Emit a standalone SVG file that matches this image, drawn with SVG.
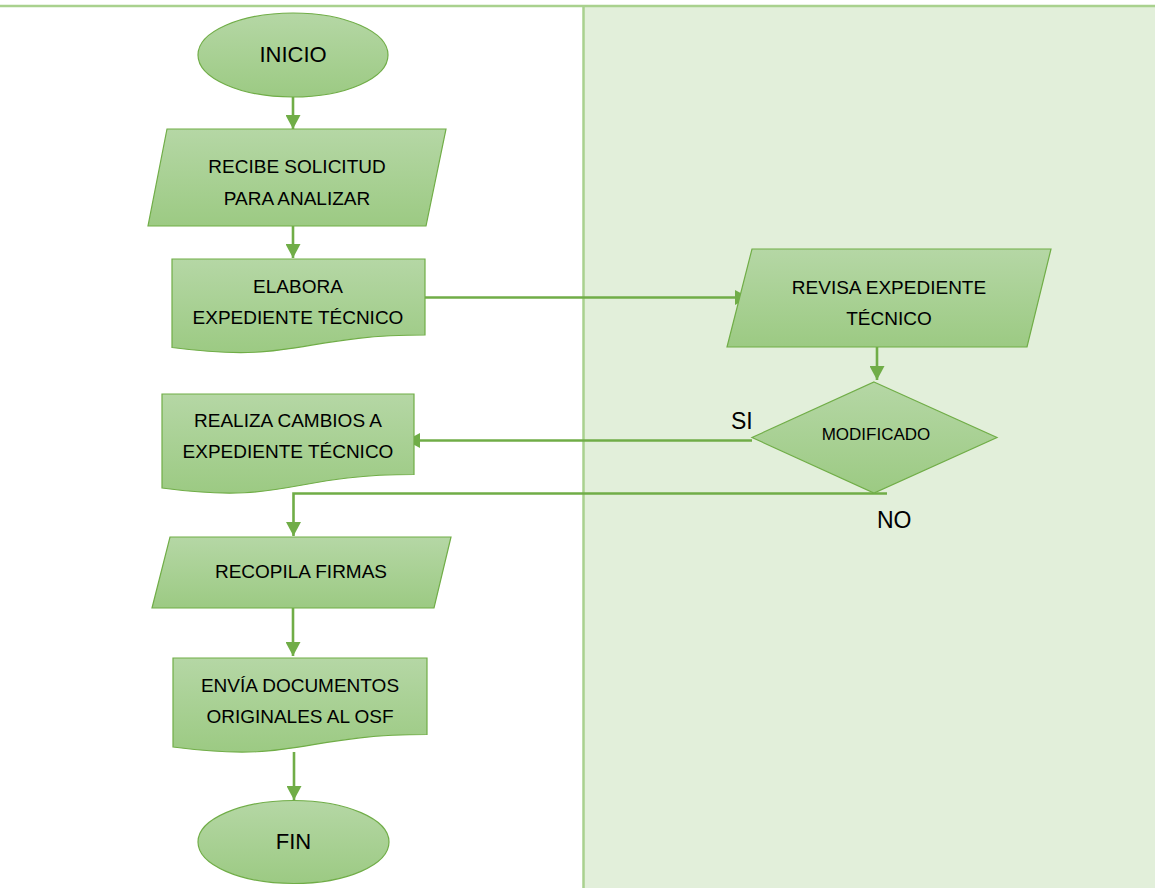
<svg xmlns="http://www.w3.org/2000/svg" width="1155" height="888" viewBox="0 0 1155 888">
  <defs>
    <linearGradient id="fillGreen" x1="0" y1="0" x2="0" y2="1">
      <stop offset="0" stop-color="#b5d7a5"/>
      <stop offset="1" stop-color="#9cca83"/>
    </linearGradient>
    <marker id="arrow" viewBox="0 0 14 15" refX="14" refY="7.5" markerWidth="14" markerHeight="15" markerUnits="userSpaceOnUse" orient="auto">
      <path d="M0,0 L14,7.5 L0,15 Z" fill="#70ad47"/>
    </marker>
    <style>
      .shape { fill: url(#fillGreen); stroke: #70ad47; stroke-width: 1.2; }
      .label { font-family: "Liberation Sans", Arial, sans-serif; font-size: 19px; fill: #000; text-anchor: middle; }
      .term { font-size: 22px; }
      .small { font-size: 17px; }
      .edge { fill: none; stroke: #70ad47; stroke-width: 2.6; marker-end: url(#arrow); }
      .plain { fill: none; stroke: #70ad47; stroke-width: 2.6; }
      .branch { font-family: "Liberation Sans", Arial, sans-serif; font-size: 23px; fill: #000; }
    </style>
  </defs>

  <!-- swimlane background -->
  <rect x="0" y="0" width="1155" height="888" fill="#ffffff"/>
  <rect x="584" y="7" width="571" height="881" fill="#e2efda"/>
  <line x1="0" y1="6" x2="1155" y2="6" stroke="#a9d18e" stroke-width="2.5"/>
  <line x1="583.5" y1="6" x2="583.5" y2="888" stroke="#a9d18e" stroke-width="2.5"/>

  <!-- connectors -->
  <g id="connectors">
    <path class="edge" d="M293,97 V129"/>
    <path class="edge" d="M293,226 V258"/>
    <path class="edge" d="M425,297.5 H749"/>
    <path class="edge" d="M877,347 V380"/>
    <path class="edge" d="M752,440.5 H406"/>
    <path class="edge" d="M887,493.5 H293.5 V536"/>
    <path class="edge" d="M293,608 V656"/>
    <path class="edge" d="M294,752 V800"/>
  </g>

  <g id="inicio">
    <ellipse class="shape" cx="293" cy="55" rx="95" ry="42"/>
    <text class="label term" x="293" y="62">INICIO</text>
  </g>

  <g id="recibe-solicitud">
    <polygon class="shape" points="167,129 446,129 426,226 148,226"/>
    <text class="label" x="297" y="173">RECIBE SOLICITUD</text>
    <text class="label" x="297" y="205">PARA ANALIZAR</text>
  </g>

  <g id="elabora-expediente">
    <path class="shape" d="M172,259 H425 V335 C298.5,335 298.5,364 172,347.5 Z"/>
    <text class="label" x="298" y="293">ELABORA</text>
    <text class="label" x="298" y="324">EXPEDIENTE TÉCNICO</text>
  </g>

  <g id="revisa-expediente">
    <polygon class="shape" points="752,249 1051,249 1027,347 727,347"/>
    <text class="label" x="889" y="294">REVISA EXPEDIENTE</text>
    <text class="label" x="889" y="325">TÉCNICO</text>
  </g>

  <g id="modificado">
    <polygon class="shape" points="874,382 997,437.5 874,493 752,437.5"/>
    <text class="label small" x="876" y="440">MODIFICADO</text>
  </g>

  <g id="realiza-cambios">
    <path class="shape" d="M162,394 H414 V474.5 C288,474.5 288,505 162,488 Z"/>
    <text class="label" x="288" y="427">REALIZA CAMBIOS A</text>
    <text class="label" x="288" y="458">EXPEDIENTE TÉCNICO</text>
  </g>

  <g id="recopila-firmas">
    <polygon class="shape" points="170,537 451,537 434,608 152,608"/>
    <text class="label" x="301" y="578">RECOPILA FIRMAS</text>
  </g>

  <g id="envia-documentos">
    <path class="shape" d="M173,658 H427 V734.5 C300,734.5 300,763.5 173,747 Z"/>
    <text class="label" x="300" y="692">ENVÍA DOCUMENTOS</text>
    <text class="label" x="300" y="723">ORIGINALES AL OSF</text>
  </g>

  <g id="fin">
    <ellipse class="shape" cx="293.5" cy="842" rx="95.5" ry="41.5"/>
    <text class="label term" x="293.5" y="849">FIN</text>
  </g>

  <!-- branch labels -->
  <text class="branch" x="731" y="429">SI</text>
  <text class="branch" x="877" y="528">NO</text>
</svg>
